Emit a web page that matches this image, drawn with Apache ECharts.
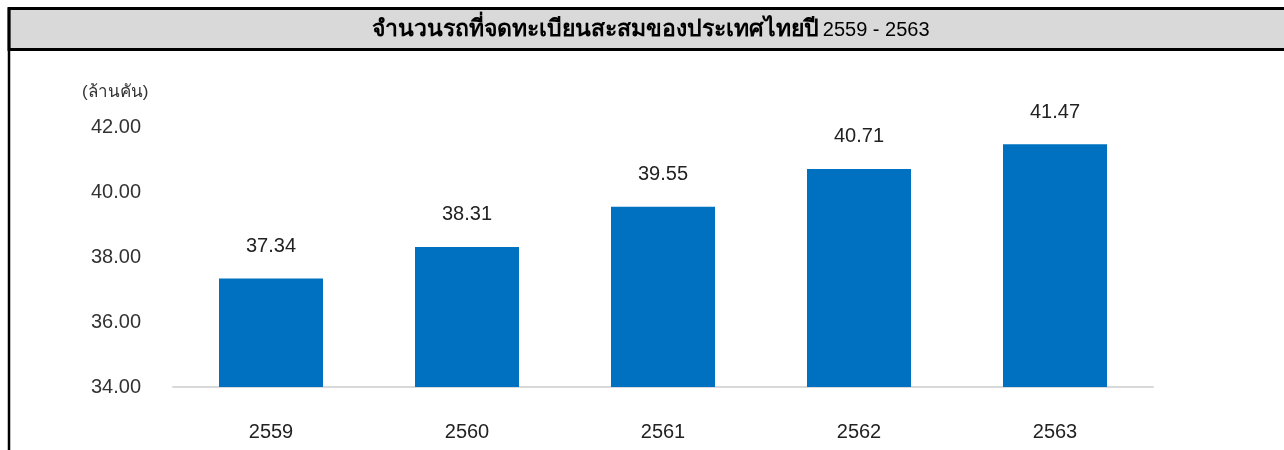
<!DOCTYPE html>
<html><head><meta charset="utf-8">
<script src="https://cdn.jsdelivr.net/npm/echarts@6/dist/echarts.min.js"></script>
<style>html,body{margin:0;padding:0;background:#fff}#c{width:1284px;height:450px}</style>
</head><body><div id="c"></div>
<script>
const titleThai = 'จำนวนรถที่จดทะเบียนสะสมของประเทศไทยปี';
const titleYears = '2559 - 2563';
const unitLabel = '(ล้านคัน)';
const categories = ['2559', '2560', '2561', '2562', '2563'];
const values = [37.34, 38.31, 39.55, 40.71, 41.47];
const yMin = 34, yMax = 42, yStep = 2;

const chart = echarts.init(document.getElementById('c'), null, {renderer: 'canvas'});
const font = '"Liberation Sans", Arial, "Noto Sans", sans-serif';
chart.setOption({
  animation: false,
  textStyle: {fontFamily: font},
  graphic: [
    {type: 'rect', shape: {x: 9, y: 8.5, width: 1290, height: 41}, style: {fill: '#d9d9d9', stroke: '#000', lineWidth: 3}, z: 0},
    {type: 'line', shape: {x1: 9, y1: 8, x2: 9, y2: 450}, style: {stroke: '#000', lineWidth: 2.5}, z: 1},
    {type: 'text', x: 651, y: 30, style: {
      text: '{th|' + titleThai + '} {num|' + titleYears + '}',
      textAlign: 'center', textVerticalAlign: 'middle',
      rich: {
        th: {fontFamily: font, fontSize: 23, fontWeight: 'bold', fill: '#000', color: '#000'},
        num: {fontFamily: font, fontSize: 20, fontWeight: 'normal', fill: '#000', color: '#000'}
      }
    }, z: 2},
    {type: 'text', x: 82, y: 92, style: {text: unitLabel, fill: '#333', font: '17px ' + font, textAlign: 'left', textVerticalAlign: 'middle'}, z: 2}
  ],
  grid: {left: 173, right: 131, top: 127, bottom: 63, containLabel: false},
  xAxis: {
    type: 'category', data: categories,
    axisLine: {show: true, lineStyle: {color: '#d9d9d9', width: 2}},
    axisTick: {show: false},
    axisLabel: {color: '#222', fontSize: 20, margin: 35}
  },
  yAxis: {
    type: 'value', min: yMin, max: yMax, interval: yStep,
    splitLine: {show: false}, axisLine: {show: false}, axisTick: {show: false},
    axisLabel: {color: '#333', fontSize: 20, margin: 32, formatter: v => v.toFixed(2)}
  },
  series: [{
    type: 'bar', data: values, barWidth: 104,
    itemStyle: {color: '#0070c0'},
    label: {show: true, position: 'top', distance: 22, color: '#222', fontSize: 20, formatter: p => p.value.toFixed(2)}
  }]
});
</script></body></html>
